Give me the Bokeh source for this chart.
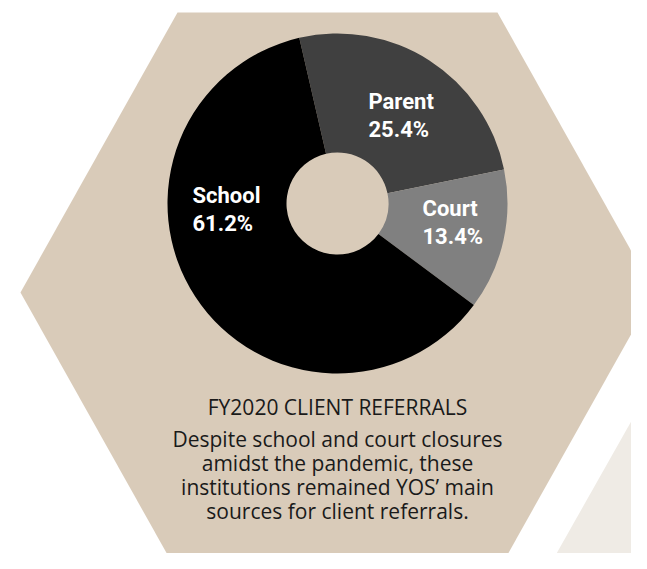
import math
from bokeh.plotting import figure
from bokeh.models import Range1d
from bokeh.embed import file_html
from bokeh.resources import INLINE
from bokeh.core.properties import value

# ---- data ----
categories = ["Parent", "Court", "School"]
shares = [25.4, 13.4, 61.2]
slice_colors = ["#404040", "#808080", "#000000"]
title_text = "FY2020 CLIENT REFERRALS"
body_lines = [
    "Despite school and court closures",
    "amidst the pandemic, these",
    "institutions remained YOS\u2019 main",
    "sources for client referrals.",
]

# ---- layout (reference pixel coordinates) ----
W, H = 631, 553
TXT_SHIFT = 7  # baseline correction for text


def X(x):
    return x


def Y(y):
    return H - y


BEIGE = "#d9cbb9"
LIGHT = "#efebe5"
BOLD_FONT = "Roboto"
TEXT_FONT = "Open Sans"

p = figure(width=W, height=H, x_range=Range1d(0, W), y_range=Range1d(0, H),
           output_backend="svg", toolbar_location=None, min_border=0,
           x_axis_location=None, y_axis_location=None,
           background_fill_color="white", border_fill_color="white")
p.grid.visible = False
p.outline_line_color = None

# light background shape at bottom right
k = 0.565
lx = [547, 547 + k * 300, 760, 760, 547 - k * 40]
ly = [569, 269, 269, 620, 609]
p.patch([X(v) for v in lx], [Y(v) for v in ly], fill_color=LIGHT, line_color=None)

# hexagon
hcx, hcy, hw, tw, hh = 337, 292, 317, 160, 280
hx = [hcx - tw, hcx + tw, hcx + hw, hcx + tw, hcx - tw, hcx - hw]
hy = [hcy - hh, hcy - hh, hcy, hcy + hh, hcy + hh, hcy]
p.patch([X(v) for v in hx], [Y(v) for v in hy], fill_color=BEIGE, line_color=None)

# donut
total = sum(shares)
start0 = math.radians(103.0)
starts, ends = [], []
acc = start0
for s in shares:
    starts.append(acc)
    acc -= 2 * math.pi * s / total
    ends.append(acc)
p.annular_wedge(x=X(337), y=Y(203), inner_radius=51, outer_radius=170,
                start_angle=starts, end_angle=ends, direction="clock",
                fill_color=slice_colors, line_color=None)

# slice labels
label_pos = {"Parent": (368, 108), "Court": (422, 215), "School": (192, 202)}
lab_x, lab_y, lab_t = [], [], []
for c, s in zip(categories, shares):
    bx, by = label_pos[c]
    lab_x += [X(bx), X(bx)]
    lab_y += [Y(by - TXT_SHIFT), Y(by + 28 - TXT_SHIFT)]
    lab_t += [c, f"{s:.1f}%"]
p.text(x=lab_x, y=lab_y, text=lab_t, text_color="white", text_font=value(BOLD_FONT),
       text_font_style="bold", text_font_size="22px", text_align="left",
       text_baseline="alphabetic")

# title and body
p.text(x=[X(337)], y=[Y(413 - TXT_SHIFT)], text=[title_text], text_color="#1a1a1a",
       text_font=value(TEXT_FONT), text_font_size="21px", text_align="center",
       text_baseline="alphabetic")
p.text(x=[X(337)] * len(body_lines),
       y=[Y(445 + 24 * i - TXT_SHIFT) for i in range(len(body_lines))],
       text=body_lines, text_color="#1a1a1a", text_font=value(TEXT_FONT),
       text_font_size="21px", text_align="center", text_baseline="alphabetic")

open("out.html", "w").write(file_html(p, INLINE))
